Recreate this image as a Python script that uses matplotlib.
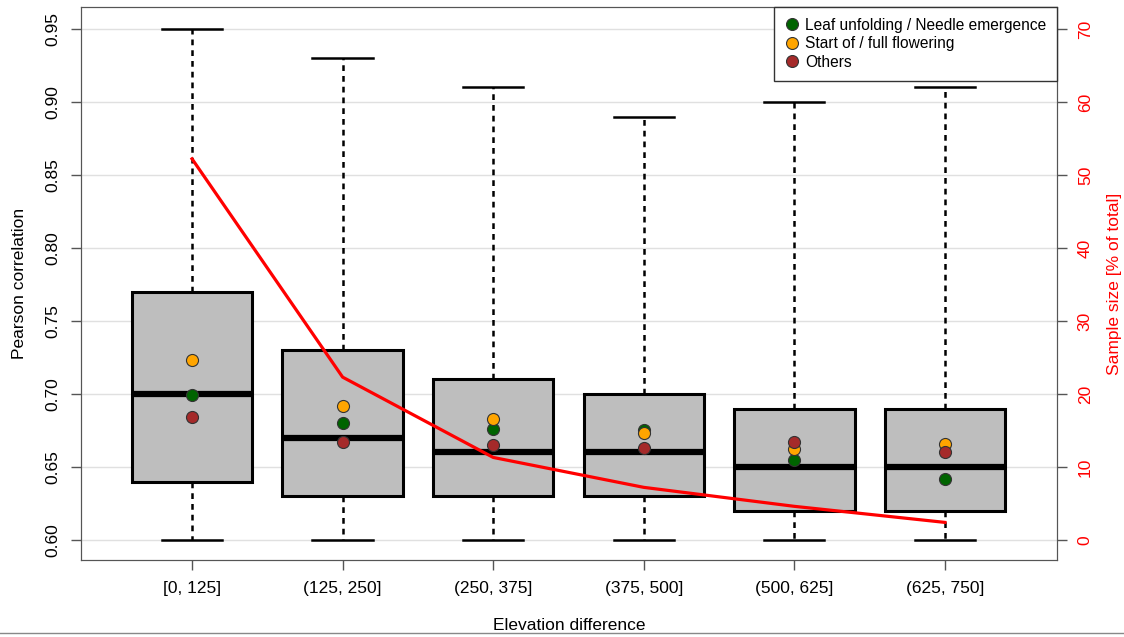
import matplotlib.pyplot as plt
import numpy as np
from matplotlib.lines import Line2D

plt.rcParams['font.family'] = ['Liberation Sans', 'DejaVu Sans']

# data
groups = ['[0, 125]', '(125, 250]', '(250, 375]', '(375, 500]', '(500, 625]', '(625, 750]']
whis_lo = [0.60, 0.60, 0.60, 0.60, 0.60, 0.60]
q1 = [0.64, 0.63, 0.63, 0.63, 0.62, 0.62]
med = [0.70, 0.67, 0.66, 0.66, 0.65, 0.65]
q3 = [0.77, 0.73, 0.71, 0.70, 0.69, 0.69]
whis_hi = [0.95, 0.93, 0.91, 0.89, 0.90, 0.91]

leaf = [0.699, 0.680, 0.676, 0.675, 0.655, 0.642]
flower = [0.723, 0.692, 0.683, 0.673, 0.662, 0.666]
others = [0.684, 0.667, 0.665, 0.663, 0.667, 0.660]

sample_pct = [52.2, 22.3, 11.3, 7.2, 4.6, 2.4]

pos = np.arange(1, len(groups) + 1)

fig = plt.figure(figsize=(11.24, 6.37), dpi=100)
ax = fig.add_axes([0.0721, 0.121, 0.8683, 0.868])

stats = []
for i in range(len(groups)):
    stats.append({'whislo': whis_lo[i], 'q1': q1[i], 'med': med[i],
                  'q3': q3[i], 'whishi': whis_hi[i], 'fliers': []})

ax.bxp(stats, positions=pos, widths=0.8, patch_artist=True, showfliers=False,
       boxprops=dict(facecolor='#bebebe', edgecolor='black', linewidth=2.2),
       medianprops=dict(color='black', linewidth=4.5, solid_capstyle='butt'),
       whiskerprops=dict(color='black', linewidth=1.8, linestyle=(0, (2.3, 2.0))),
       capprops=dict(color='black', linewidth=1.8), capwidths=0.4, zorder=2)

ax.scatter(pos, leaf, s=75, color='#006400', edgecolor='#333333', linewidth=0.8, zorder=4)
ax.scatter(pos, flower, s=75, color='#ffa500', edgecolor='#333333', linewidth=0.8, zorder=4)
ax.scatter(pos, others, s=75, color='#a52a2a', edgecolor='#333333', linewidth=0.8, zorder=4)

ax.set_xlim(0.263, 6.744)
ax.set_ylim(0.5863, 0.965)
ax.set_yticks(np.arange(0.60, 0.951, 0.05))
ax.set_yticklabels(['%.2f' % v for v in np.arange(0.60, 0.951, 0.05)], rotation=90, va='center')
ax.set_xticks(pos)
ax.set_xticklabels(groups)
ax.yaxis.grid(True, color='#e0e0e0', linewidth=1)
ax.set_axisbelow(True)
ax.tick_params(labelsize=12.5, length=7, width=1, color='#555555', direction='out', pad=8)
for sp in ax.spines.values():
    sp.set_color('#555555')
ax.set_ylabel('Pearson correlation', fontsize=12.5, labelpad=13)
ax.set_xlabel('Elevation difference', fontsize=12.5, labelpad=16)

ax2 = ax.twinx()
ax2.plot(pos, sample_pct, color='red', linewidth=2.3, zorder=3)
ax2.set_ylim((0.5863 - 0.6) * 200, (0.965 - 0.6) * 200)
ax2.set_yticks(np.arange(0, 71, 10))
ax2.set_yticklabels([str(v) for v in range(0, 71, 10)], rotation=90, va='center', color='red')
ax2.tick_params(labelsize=12.5, length=7, width=1, color='#555555', direction='out', pad=8)
for sp in ax2.spines.values():
    sp.set_color('#555555')
ax2.set_ylabel('Sample size [% of total]', fontsize=12.5, color='red', labelpad=10)

handles = [Line2D([], [], marker='o', linestyle='none', markersize=8.6, markerfacecolor=c,
                  markeredgecolor='#333333', markeredgewidth=0.8)
           for c in ['#006400', '#ffa500', '#a52a2a']]
leg = fig.legend(handles, ['Leaf unfolding / Needle emergence', 'Start of / full flowering', 'Others'],
                 loc='upper right', bbox_to_anchor=(0.9404, 0.989), fontsize=11.2,
                 fancybox=False, framealpha=1, edgecolor='#333333', handletextpad=0.3,
                 handlelength=1.0, borderpad=0.7, labelspacing=0.22, borderaxespad=0)
leg.get_frame().set_linewidth(1)

fig.add_artist(Line2D([0, 1], [0.006, 0.006], color='#888888', linewidth=1))

fig.savefig('out.png', dpi=100)
